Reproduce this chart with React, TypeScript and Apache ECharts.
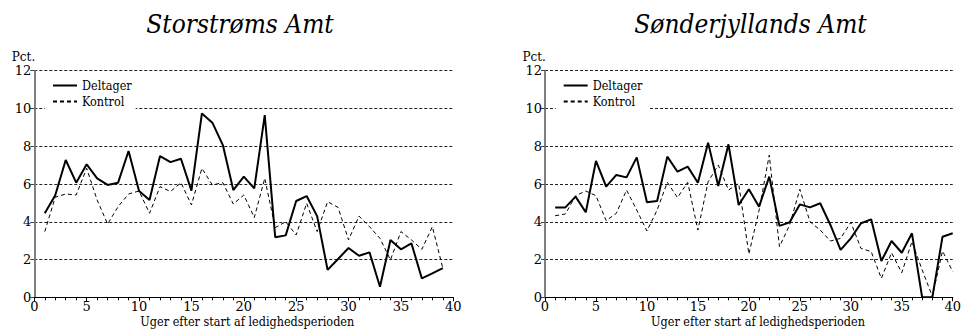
import React, { useEffect, useRef } from "react";
import * as echarts from "echarts";

const titles = ["Storstrøms Amt", "Sønderjyllands Amt"];
const seriesNames = ["Deltager", "Kontrol"];
const xAxisTitle = "Uger efter start af ledighedsperioden";
const yUnit = "Pct.";

const weeksLeft = [1, 2, 3, 4, 5, 6, 7, 8, 9, 10, 11, 12, 13, 14, 15, 16, 17, 18, 19, 20, 21, 22, 23, 24, 25, 26, 27, 28, 29, 30, 31, 32, 33, 34, 35, 36, 37, 38, 39];
const weeksRight = [1, 2, 3, 4, 5, 6, 7, 8, 9, 10, 11, 12, 13, 14, 15, 16, 17, 18, 19, 20, 21, 22, 23, 24, 25, 26, 27, 28, 29, 30, 31, 32, 33, 34, 35, 36, 37, 38, 39, 40];

const leftDeltager = [4.45, 5.4, 7.27, 6.07, 7.04, 6.3, 5.95, 6.07, 7.75, 5.63, 5.15, 7.48, 7.16, 7.34, 5.65, 9.74, 9.25, 8.06, 5.68, 6.39, 5.77, 9.65, 3.18, 3.28, 5.1, 5.36, 4.3, 1.45, 2.03, 2.61, 2.2, 2.38, 0.56, 3.03, 2.54, 2.86, 1.0, 1.27, 1.54];
const leftKontrol = [3.48, 5.3, 5.47, 5.42, 6.83, 5.15, 3.88, 4.8, 5.47, 5.63, 4.45, 5.86, 5.6, 6.07, 4.89, 6.83, 5.95, 6.07, 4.94, 5.42, 4.22, 6.3, 3.69, 4.0, 3.3, 4.98, 3.48, 5.06, 4.76, 3.04, 4.3, 3.74, 3.12, 1.98, 3.48, 3.04, 2.54, 3.74, 1.54];
const rightDeltager = [4.75, 4.76, 5.33, 4.5, 7.22, 5.86, 6.48, 6.35, 7.41, 5.03, 5.1, 7.45, 6.65, 6.92, 6.07, 8.19, 5.89, 8.1, 4.89, 5.72, 4.8, 6.39, 3.78, 3.97, 4.92, 4.76, 4.98, 3.83, 2.51, 3.12, 3.92, 4.13, 1.92, 2.98, 2.36, 3.39, 0, 0, 3.21, 3.39];
const rightKontrol = [4.32, 4.41, 5.38, 5.63, 5.38, 4.06, 4.45, 5.68, 4.62, 3.51, 4.62, 6.09, 5.28, 6.09, 3.56, 6.12, 7.0, 5.68, 6.03, 2.29, 4.6, 7.53, 2.68, 3.83, 5.72, 4.0, 3.56, 2.98, 3.12, 3.97, 2.59, 2.42, 1.0, 2.36, 1.3, 2.95, 1.45, 0.05, 2.45, 1.36];

const FONT_COND = "DejaVu Serif Condensed";
const FONT = "DejaVu Serif";

function pairs(xs: number[], ys: number[]) {
  return xs.map((x, i) => [x, ys[i]]);
}

export default function App() {
  const ref = useRef<HTMLDivElement>(null);
  useEffect(() => {
    if (!ref.current) return;
    const chart = echarts.init(ref.current, undefined, { renderer: "svg" });
    const grids = [
      { left: 34.3, top: 70.7, width: 419, height: 226.6 },
      { left: 545, top: 70.7, width: 420, height: 226.6 },
    ];
    const xAxes = grids.map((_, i) => ({
      type: "value",
      gridIndex: i,
      min: 0,
      max: 40,
      interval: 5,
      axisLine: { show: true, onZero: false, lineStyle: { color: "#000", width: 1.2 } },
      axisTick: { show: true, length: 4, lineStyle: { color: "#000" } },
      minorTick: { show: true, splitNumber: 5, length: 3, lineStyle: { color: "#000" } },
      splitLine: { show: false },
      axisLabel: { color: "#000", fontFamily: FONT, fontSize: 13, margin: 3, showMaxLabel: true, lineHeight: 13 },
    }));
    const yAxes = grids.map((_, i) => ({
      type: "value",
      gridIndex: i,
      min: 0,
      max: 12,
      interval: 2,
      axisLine: { show: true, lineStyle: { color: "#808080", width: 2 } },
      axisTick: { show: true, length: 4, lineStyle: { color: "#444" } },
      splitLine: { show: true, lineStyle: { color: "#222", width: 1, type: [3, 2] } },
      axisLabel: { color: "#000", fontFamily: FONT, fontSize: 13, margin: 3, lineHeight: 13 },
    }));
    const mk = (name: string, data: number[][], idx: number, dashed: boolean) => ({
      type: "line",
      name,
      xAxisIndex: idx,
      yAxisIndex: idx,
      data,
      symbol: "none",
      lineStyle: dashed
        ? { color: "#000", width: 1, type: [4, 3] }
        : { color: "#000", width: 2 },
      itemStyle: { color: "#000" },
      z: dashed ? 3 : 4,
    });
    const legends = grids.map((g, i) => ({
      orient: "vertical",
      left: g.left + 10.7,
      top: 76,
      padding: [3, 4, 3, 7],
      backgroundColor: "#fff",
      itemWidth: 24,
      itemHeight: 14,
      itemGap: 3,
      itemStyle: { opacity: 0 },
      textStyle: { color: "#000", fontFamily: FONT_COND, fontSize: 12.5 },
      data: seriesNames.map((n) => `${n}${i === 1 ? " " : ""}`),
    }));
    const graphic: any[] = [];
    grids.forEach((g, i) => {
      graphic.push({
        type: "text",
        x: g.left + (i === 0 ? 205.7 : 205.5),
        y: 23.5,
        style: {
          text: titles[i],
          fontFamily: FONT_COND,
          fontStyle: "italic",
          fontSize: 26,
          fill: "#000",
          align: "center",
          verticalAlign: "middle",
        },
      });
      graphic.push({
        type: "text",
        x: g.left - 22.5,
        y: 57,
        style: {
          text: yUnit,
          fontFamily: FONT,
          fontSize: 12,
          fill: "#000",
          align: "left",
          verticalAlign: "middle",
        },
      });
      graphic.push({
        type: "text",
        x: g.left + 213,
        y: 321.5,
        style: {
          text: xAxisTitle,
          fontFamily: FONT_COND,
          fontSize: 12.5,
          fill: "#000",
          align: "center",
          verticalAlign: "middle",
        },
      });
    });
    chart.setOption({
      animation: false,
      backgroundColor: "#fff",
      grid: grids,
      xAxis: xAxes,
      yAxis: yAxes,
      legend: legends,
      graphic,
      series: [
        mk(seriesNames[0], pairs(weeksLeft, leftDeltager), 0, false),
        mk(seriesNames[1], pairs(weeksLeft, leftKontrol), 0, true),
        mk(seriesNames[0] + " ", pairs(weeksRight, rightDeltager), 1, false),
        mk(seriesNames[1] + " ", pairs(weeksRight, rightKontrol), 1, true),
      ],
    });
    return () => chart.dispose();
  }, []);
  return (
    <div
      ref={ref}
      style={{ position: "fixed", left: 0, top: 0, width: 964, height: 333, background: "#fff" }}
    />
  );
}
